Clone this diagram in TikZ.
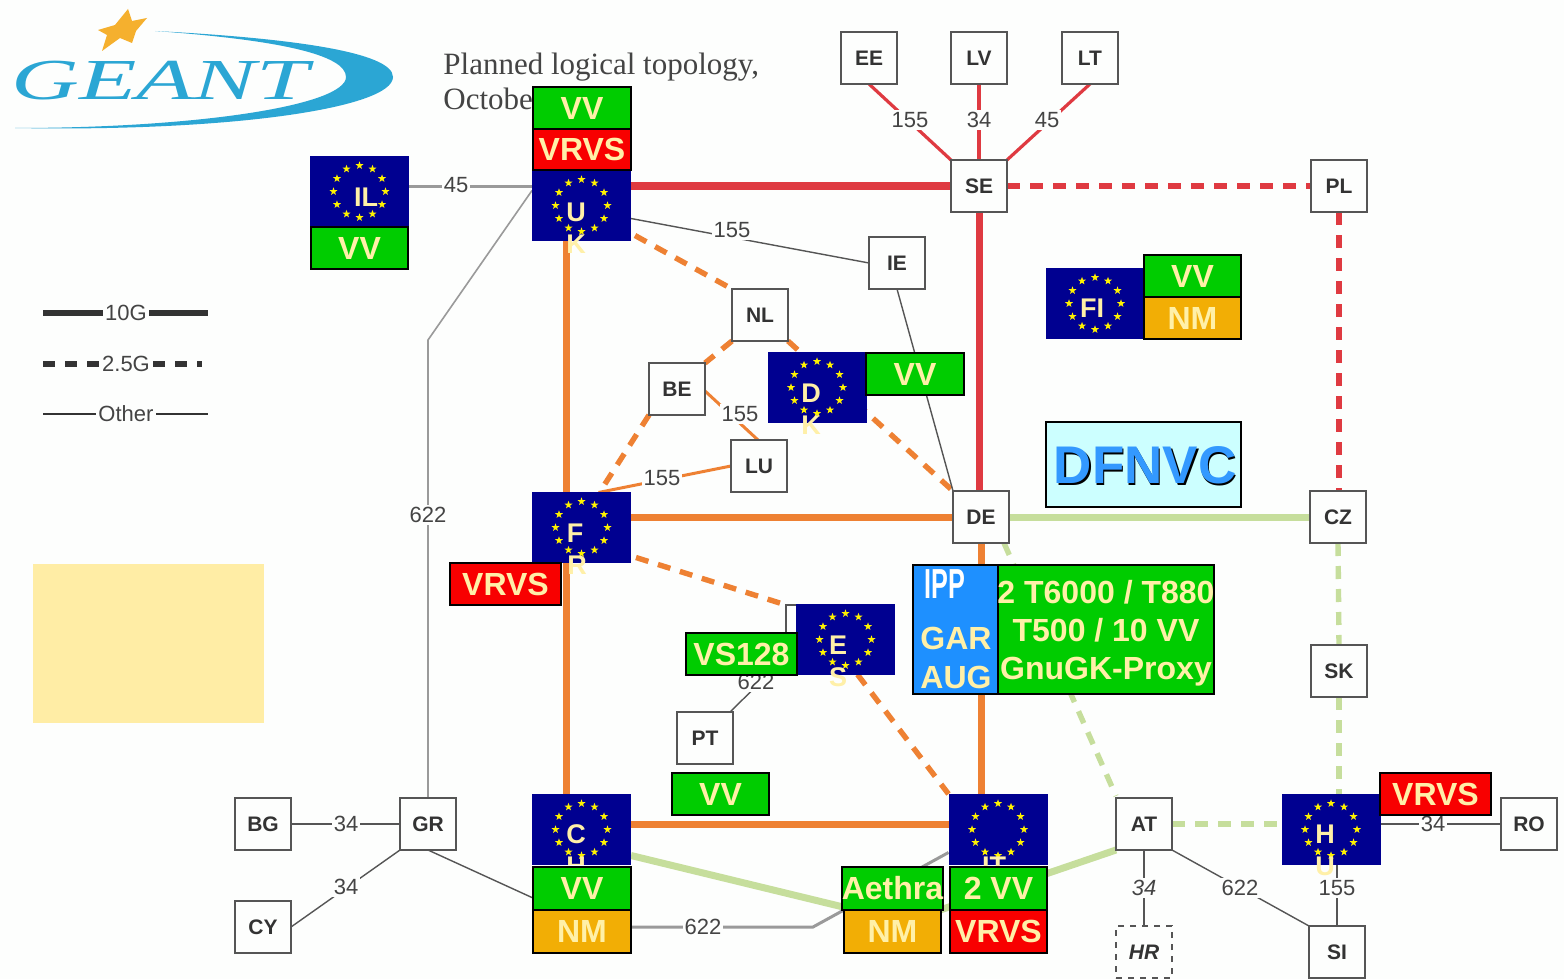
\documentclass[tikz,border=0pt]{standalone}
\usepackage{fontspec}
\usepackage{graphicx}
\setmainfont{Liberation Sans}
\newfontfamily\titlefont{Liberation Serif}
\usetikzlibrary{backgrounds}
\pgfdeclarelayer{under}
\pgfsetlayers{under,main}
\definecolor{paper}{HTML}{FDFEFD}
\definecolor{tagtext}{HTML}{FFF0A8}
\definecolor{tgreen}{HTML}{00CC00}
\definecolor{tred}{HTML}{F80000}
\definecolor{tamber}{HTML}{F2AE05}
\definecolor{flagblue}{HTML}{000090}
\definecolor{lorange}{HTML}{EE8133}
\definecolor{lred}{HTML}{DF3A41}
\definecolor{lgreen}{HTML}{C6DE9C}
\definecolor{lgray}{HTML}{9A9A9A}
\definecolor{ldark}{HTML}{555555}
\definecolor{labgray}{HTML}{444444}
\definecolor{logoblue}{HTML}{2BA6D4}
\definecolor{logostar}{HTML}{F5B02E}
\definecolor{memo}{HTML}{FFEDA5}
\definecolor{dfnbg}{HTML}{CCFFFF}
\definecolor{dfnblue}{HTML}{3399FF}
\definecolor{ippblue}{HTML}{1E90FF}
\tikzset{
  router/.style={draw=ldark,fill=paper,line width=0.9pt,minimum width=28pt,minimum height=26pt,inner sep=0pt,outer sep=0pt,text=black!80,font=\fontsize{10.5}{12}\selectfont\bfseries},
  flagbox/.style={fill=flagblue,minimum width=49.5pt,minimum height=35.5pt,inner sep=0pt,outer sep=0pt},
  flagtxt/.style={text=tagtext,inner sep=0pt,font=\fontsize{13.5}{14}\selectfont\bfseries},
  tag/.style={draw=black,line width=1pt,inner sep=0pt,outer sep=0pt,text=tagtext,align=center,font=\fontsize{16}{19}\selectfont\bfseries},
  lab/.style={fill=paper,inner sep=1pt,text=labgray,font=\fontsize{11}{12}\selectfont},
  thickline/.style={line width=3.5pt},
  dashline/.style={line width=2.7pt,dash pattern=on 6.5pt off 5pt},
  hairdark/.style={line width=0.7pt,draw=ldark},
  hairgray/.style={line width=1.5pt,draw=lgray},
}
\newcommand{\tagbox}[7]{%
  \pgfmathsetmacro{\tw}{(#4-#2)/2}\pgfmathsetmacro{\th}{(#5-#3)/2}%
  \node[tag,fill=#6,minimum width=\tw pt,minimum height=\th pt] (#1) at ({(#2+#4)/2},{(#3+#5)/2}) {#7};}
\newcommand{\euflag}[3]{%
  \node[flagbox] (#1) at (#2) {};
  \foreach \a in {0,30,...,330}{
    \fill[yellow,shift={(#2)},shift={(\a:26)}] (270:4.2) -- (306:1.7) -- (342:4.2) -- (18:1.7) -- (54:4.2) -- (90:1.7) -- (126:4.2) -- (162:1.7) -- (198:4.2) -- (234:1.7) -- cycle;
  }}
\begin{document}
\begin{tikzpicture}[x=0.5pt,y=-0.5pt]
\useasboundingbox (0,0) rectangle (1564,979);
\begin{pgfonlayer}{under}
\fill[paper] (0,0) rectangle (1564,979);
\fill[memo] (33,564) rectangle (264,723);
% logo
\fill[logoblue] (155,31) .. controls (290,38) and (393,52) .. (393,77) .. controls (393,108) and (230,132) .. (15,128) .. controls (200,128) and (346,105) .. (346,77) .. controls (346,55) and (280,40) .. (155,31) -- cycle;
\fill[logostar] (128,9) -- (132,21) -- (147,18) -- (136,31) -- (132,43) -- (120,38) -- (102,51) -- (107,35) -- (98,30) -- (115,25) -- cycle;
\end{pgfonlayer}
\node[text=logoblue,inner sep=0pt] (logo) at (160,81) {\scalebox{1.62}[1]{\titlefont\itshape\fontsize{29}{29}\selectfont GEANT}};
\node[anchor=west,inner sep=0pt,text=labgray] (title1) at (443,67) {\titlefont\fontsize{15.5}{16}\selectfont Planned logical topology,};
\node[anchor=west,inner sep=0pt,text=labgray] (title2) at (443,99) {\titlefont\fontsize{15.5}{16}\selectfont Octobe};
% routers
\node[router] (ee) at (869,58) {EE};
\node[router] (lv) at (979,58) {LV};
\node[router] (lt) at (1090,58) {LT};
\node[router] (se) at (979,186) {SE};
\node[router] (pl) at (1339,186) {PL};
\node[router] (ie) at (897,263) {IE};
\node[router] (nl) at (760,315) {NL};
\node[router] (be) at (677,389) {BE};
\node[router] (lu) at (759,466) {LU};
\node[router] (de) at (981,517) {DE};
\node[router] (cz) at (1338,517) {CZ};
\node[router] (sk) at (1339,671) {SK};
\node[router] (at) at (1144,824) {AT};
\node[router] (ro) at (1529,824) {RO};
\node[router,dashed,line width=0.7pt] (hr) at (1144,952) {\itshape HR};
\node[router] (si) at (1337,952) {SI};
\node[router] (bg) at (263,824) {BG};
\node[router] (gr) at (428,824) {GR};
\node[router] (cy) at (263,927) {CY};
\node[router] (pt) at (705,738) {PT};
\node[router] (esbox) at (814,631) {};
% flags
\euflag{il}{359.5,191.5}{}
\node[flagtxt] (iltxt) at (366,197) {IL};
\euflag{uk}{581.5,205.5}{}
\node[flagtxt] (uktxt1) at (576,212) {U};
\node[flagtxt] (uktxt2) at (576,244) {K};
\euflag{fi}{1095,303.5}{}
\node[flagtxt] (fitxt) at (1092,308) {FI};
\euflag{dk}{817,387.5}{}
\node[flagtxt] (dktxt1) at (811,393) {D};
\node[flagtxt] (dktxt2) at (811,425) {K};
\euflag{fr}{581.5,527.5}{}
\node[flagtxt] (frtxt1) at (575,533) {F};
\node[flagtxt] (frtxt2) at (577,565) {R};
\euflag{es}{845.5,639.5}{}
\node[flagtxt] (estxt1) at (838,645) {E};
\node[flagtxt] (estxt2) at (838,677) {S};
\euflag{ch}{581.5,829.5}{}
\node[flagtxt] (chtxt1) at (576,834) {C};
\node[flagtxt] (chtxt2) at (576,866) {H};
\euflag{it}{998,829.5}{}
\node[flagtxt] (ittxt) at (994,866) {IT};
\euflag{hu}{1331,829.5}{}
\node[flagtxt] (hutxt1) at (1325,834) {H};
\node[flagtxt] (hutxt2) at (1325,866) {U};
\fill[paper] (532,865) rectangle (631,867);
% tags
\tagbox{ilvv}{311}{227}{408}{269}{tgreen}{VV}
\tagbox{ukvv}{533}{87}{631}{129}{tgreen}{VV}
\tagbox{ukvrvs}{533}{129}{631}{170}{tred}{VRVS}
\tagbox{fivv}{1144}{255}{1241}{297}{tgreen}{VV}
\tagbox{finm}{1144}{297}{1241}{339}{tamber}{NM}
\tagbox{dkvv}{866}{353}{964}{395}{tgreen}{VV}
\tagbox{frvrvs}{450}{563}{561}{605}{tred}{VRVS}
\tagbox{esvs}{686}{633}{797}{675}{tgreen}{VS128}
\tagbox{ptvv}{672}{773}{769}{815}{tgreen}{VV}
\tagbox{chvv}{533}{867}{631}{910}{tgreen}{VV}
\tagbox{chnm}{533}{910}{631}{953}{tamber}{NM}
\tagbox{aethra}{844}{867}{941}{910}{tgreen}{Aethra}
\tagbox{aenm}{844}{910}{941}{953}{tamber}{NM}
\tagbox{itvv}{950}{867}{1047}{910}{tgreen}{2 VV}
\tagbox{itvrvs}{950}{910}{1047}{953}{tred}{VRVS}
\tagbox{huvrvs}{1380}{773}{1491}{815}{tred}{VRVS}
\tagbox{ipp}{913}{565}{998}{694}{ippblue}{}
\tagbox{vcs}{998}{565}{1214}{694}{tgreen}{}
\node[inner sep=0pt,text=tagtext,align=center,font=\fontsize{16}{19}\selectfont\bfseries] (vcstxt) at (1106,633) {2 T6000 / T880\\T500 / 10 VV\\GnuGK-Proxy};
\node[flagtxt,font=\fontsize{16}{19}\selectfont\bfseries] (gar) at (956,638) {GAR};
\node[flagtxt,font=\fontsize{16}{19}\selectfont\bfseries] (aug) at (956,677) {AUG};
\node[text=white,inner sep=0pt] (ipptxt) at (945,584) {\scalebox{0.6}[1]{\fontsize{21}{21}\selectfont\bfseries IPP}};
\node[tag,fill=dfnbg,minimum width=97.5pt,minimum height=42.5pt] (dfn) at (1143.5,464.5) {};
\node[inner sep=0pt,text=black] (dfnshadow) at (1146.5,467) {\fontsize{26.5}{28}\selectfont\bfseries DFNVC};
\node[inner sep=0pt,text=dfnblue] (dfntxt) at (1145,465.5) {\fontsize{26.5}{28}\selectfont\bfseries DFNVC};
% legend
\coordinate (g1a) at (43,313); \coordinate (g1b) at (208,313);
\coordinate (g2a) at (43,364); \coordinate (g2b) at (202,364);
\coordinate (g3a) at (43,414); \coordinate (g3b) at (208,414);
\begin{pgfonlayer}{under}
\draw[line width=2.6pt,black!80] (g1a) -- (g1b);
\draw[line width=2.6pt,black!80,dash pattern=on 6pt off 5pt] (g2a) -- (g2b);
\draw[line width=0.7pt,black!80] (g3a) -- (g3b);
\node[lab] (l10g) at (126,313) {10G};
\node[lab] (l25g) at (126,364) {2.5G};
\node[lab] (lother) at (126,414) {Other};
% thick
\draw[thickline,lred] (se.west) -- (se.west -| uk.east);
\draw[thickline,lred] (se) -- (se |- de.north);
\draw[thickline,lorange] ([xshift=-7.5pt]uk.south) -- ([xshift=-7.5pt]ch.north);
\draw[thickline,lorange] (de.west) -- (de.west -| fr.east);
\draw[thickline,lorange] (de.south) -- (de.south |- it.north);
\draw[thickline,lorange] (at.west -| it.west) -- (at.west -| ch.east);
\draw[thickline,lgreen] (de.east) -- (cz.west);
\draw[thickline,lgreen] ([shift={(0,26)}]ch.east) -- (905,922) -- (at.south west);
% dashed
\draw[dashline,lred] (se.east) -- (pl.west);
\draw[dashline,lred] (pl.south) -- (pl.south |- cz.north);
\draw[dashline,lorange] ([shift={(4,30)}]uk.east) -- (nl.north west);
\draw[dashline,lorange] (nl.south west) -- (be.north east);
\draw[dashline,lorange] (nl.south east) -- (de.north west);
\draw[dashline,lorange] (be.south west) -- ([shift={(18,-35)}]fr.center);
\draw[dashline,lorange] ([shift={(5,30)}]fr.east) -- (esbox.north west);
\draw[dashline,lorange] ([shift={(12,35)}]es.center) -- (it.north west);
\draw[dashline,lgreen] (cz.south) -- (sk.north);
\draw[dashline,lgreen] (sk.south) -- (sk.south |- hu.north);
\draw[dashline,lgreen] (at.east) -- (at.east -| hu.west);
\draw[dashline,lgreen] ([shift={(-5,0)}]de.south east) -- ([shift={(0,-2)}]at.north west);
% medium red and orange
\draw[line width=1.6pt,lred] (ee.south) -- (se.north west);
\draw[line width=1.6pt,lred] (lv.south) -- (se.north);
\draw[line width=1.6pt,lred] (lt.south) -- (se.north east);
\draw[line width=1.5pt,lorange] ([shift={(0,2)}]be.east) -- ([shift={(-1,0)}]lu.north);
\draw[line width=1.5pt,lorange] ([shift={(17,-35)}]fr.center) -- (lu.west);
% thin
\draw[hairgray] (il.east |- se.west) -- (se.west -| uk.west);
\draw[hairgray,line width=0.8pt] ([shift={(0,-15)}]uk.west) -- (428,340) -- (gr.north);
\draw[hairdark] ([shift={(0,13)}]uk.east) -- (ie.west);
\draw[hairdark] (ie.south) -- (de.north west);
\draw[hairdark] ([shift={(-3,0)}]pt.north east) -- (esbox.south west);
\draw[hairdark] (bg.east) -- (gr.west);
\draw[hairdark] (cy.east) -- (gr.south west);
\draw[hairdark] (gr.south) -- ([shift={(0,-12)}]chvv.south west);
\draw[hairgray] ([shift={(0,-4.5)}]chnm.east) -- (813,927) -- ([shift={(0,23)}]it.west);
\draw[hairdark] (at.south) -- (hr.north);
\draw[hairdark] (at.south east) -- (si.north west);
\draw[hairdark] ([xshift=3pt]hu.south) -- (si.north);
\draw[hairdark] (hu.east |- ro.west) -- (ro.west);
% labels
\node[lab] (n1) at (910,120) {155};
\node[lab] (n2) at (979,120) {34};
\node[lab] (n3) at (1047,120) {45};
\node[lab] (n4) at (456,185) {45};
\node[lab] (n5) at (732,230) {155};
\node[lab] (n6) at (428,515) {622};
\node[lab] (n7) at (740,414) {155};
\node[lab] (n8) at (662,478) {155};
\node[lab] (n9) at (756,682) {622};
\node[lab] (n10) at (346,824) {34};
\node[lab] (n11) at (346,887) {34};
\node[lab] (n12) at (703,927) {622};
\node[lab] (n13) at (1144,888) {\itshape 34};
\node[lab] (n14) at (1240,888) {622};
\node[lab] (n15) at (1337,888) {155};
\node[lab] (n16) at (1433,824) {34};
\end{pgfonlayer}
\end{tikzpicture}
\end{document}
